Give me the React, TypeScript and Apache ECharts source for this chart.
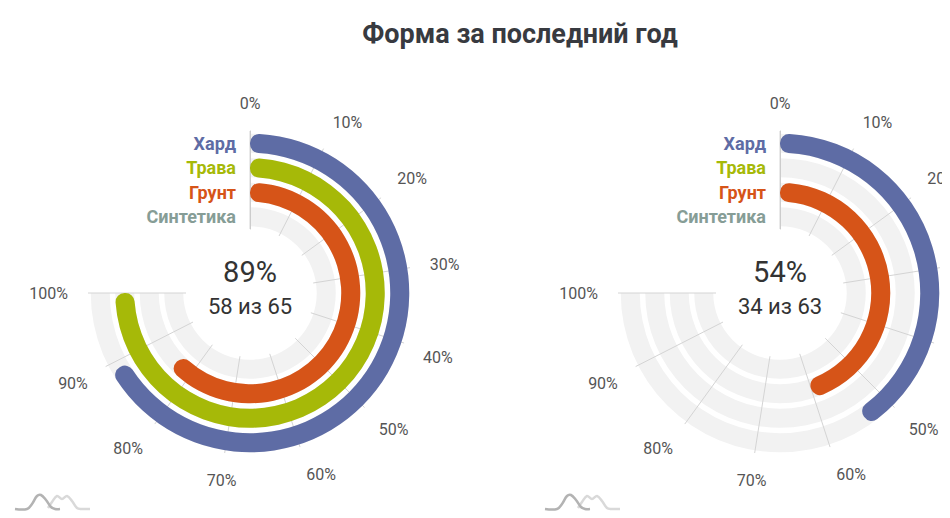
import React, { useEffect, useRef } from 'react';
import * as echarts from 'echarts';

const categories = ['Хард', 'Трава', 'Грунт', 'Синтетика'];
const categoryColors = ['#5e6ca5', '#a6b908', '#d65418', '#869d96'];
const leftValues: (number | null)[] = [89, 100, 84, null];
const rightValues: (number | null)[] = [54, null, 60, null];
const trackValues = [100, 100, 100, 100];
const summaryPercents = ['89%', '54%'];
const summaryCounts = ['58 из 65', '34 из 63'];
const titleText = 'Форма за последний год';

const FONT = 'Roboto, "Noto Sans", sans-serif';

export default function App() {
  const ref = useRef<HTMLDivElement>(null);
  useEffect(() => {
    if (!ref.current) return;
    const chart = echarts.init(ref.current, undefined, { renderer: 'svg' });
    const centers = [[242, 285], [772, 285]];
    const valueSets = [leftValues, rightValues];

    const polar = centers.map((c) => ({ center: c, radius: [64, 162] }));
    const angleAxis = centers.map((_, i) => ({
      polarIndex: i,
      type: 'value',
      min: 0,
      max: 100,
      interval: 10,
      startAngle: 90,
      endAngle: -180,
      clockwise: true,
      z: 1,
      axisLine: { show: false },
      axisTick: { show: false },
      splitLine: { show: true, lineStyle: { color: '#d4d4d4', width: 1 } },
      axisLabel: { formatter: '{value}%', color: '#555555', fontSize: 16, margin: 20, fontFamily: FONT },
    }));
    const radiusAxis = centers.map((_, i) => ({
      polarIndex: i,
      type: 'category',
      inverse: true,
      z: 1,
      data: categories.map((c, j) => ({ value: c, textStyle: { color: categoryColors[j] } })),
      axisLine: { show: true, lineStyle: { color: '#cccccc', width: 1 } },
      axisTick: { show: false },
      splitLine: { show: false },
      axisLabel: { interval: 0, fontSize: 18, fontWeight: 'bold', margin: 14, fontFamily: FONT },
    }));

    const series: any[] = [];
    centers.forEach((_, i) => {
      series.push({
        type: 'bar',
        coordinateSystem: 'polar',
        polarIndex: i,
        data: trackValues,
        barCategoryGap: '22.4%',
        barGap: '-100%',
        silent: true,
        z: 0,
        itemStyle: { color: '#f2f2f2' },
      });
      series.push({
        type: 'bar',
        coordinateSystem: 'polar',
        polarIndex: i,
        barCategoryGap: '22.4%',
        barGap: '-100%',
        z: 2,
        data: valueSets[i].map((v, j) => ({
          value: v,
          itemStyle: { color: categoryColors[j], borderRadius: 9 },
        })),
      });
    });

    const graphic: any[] = [];
    centers.forEach((c, i) => {
      graphic.push({
        type: 'text',
        x: c[0],
        y: c[1] - 21,
        style: { text: summaryPercents[i], fill: '#333333', fontSize: 29, fontFamily: FONT, textAlign: 'center', textVerticalAlign: 'middle' },
      });
      graphic.push({
        type: 'text',
        x: c[0],
        y: c[1] + 13,
        style: { text: summaryCounts[i], fill: '#333333', fontSize: 22, fontFamily: FONT, textAlign: 'center', textVerticalAlign: 'middle' },
      });
      graphic.push({
        type: 'group',
        x: c[0] - 242,
        y: 0,
        silent: true,
        children: [
          {
            type: 'polyline',
            shape: { points: [[40, 500], [44, 494], [49, 488], [54, 491], [59, 488], [64, 493], [69, 500], [73, 501], [82, 501]], smooth: 0.35 },
            style: { stroke: '#d9d9d9', lineWidth: 2.5, fill: null },
          },
          {
            type: 'polyline',
            shape: { points: [[7, 501], [19, 501], [24, 496], [29, 488], [33, 487], [38, 492], [43, 499], [47, 501], [52, 501]], smooth: 0.35 },
            style: { stroke: '#b3b3b3', lineWidth: 2.5, fill: null },
          },
        ],
      });
    });

    chart.setOption({
      animation: false,
      backgroundColor: '#ffffff',
      title: {
        text: titleText,
        left: 507,
        textAlign: 'center',
        top: 7,
        textStyle: { fontSize: 27, fontWeight: 'bold', color: '#383a40', fontFamily: FONT },
      },
      polar,
      angleAxis,
      radiusAxis,
      series,
      graphic,
    });
    return () => chart.dispose();
  }, []);
  return <div ref={ref} style={{ width: 942, height: 510 }} />;
}
